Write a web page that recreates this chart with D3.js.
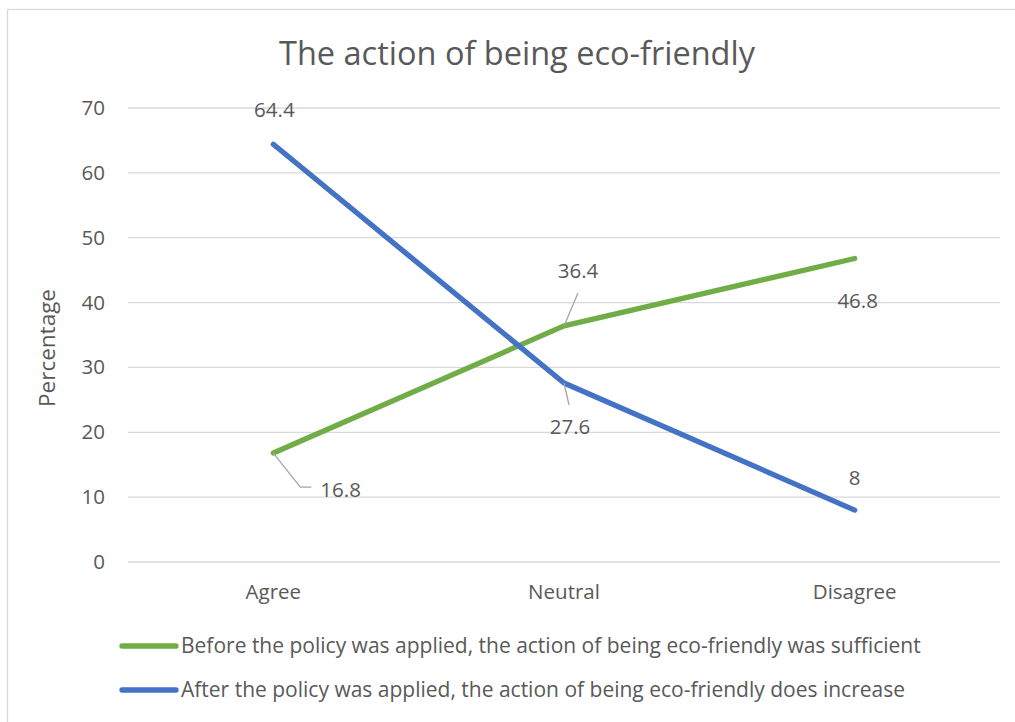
<!DOCTYPE html>
<html lang="en">
<head>
<meta charset="UTF-8">
<title>The action of being eco-friendly</title>
<script src="https://cdnjs.cloudflare.com/ajax/libs/d3/7.8.5/d3.min.js"></script>
<style>
  html, body { margin:0; padding:0; background:#fff; overflow:hidden; }
  svg text { font-family:"Open Sans", sans-serif; fill:#595959; }
</style>
</head>
<body>
<div id="chart"></div>
<script>
const categories=["Agree","Neutral","Disagree"];
const beforeValues=[16.8,36.4,46.8];
const afterValues=[64.4,27.6,8];
const seriesNames=[
  "Before the policy was applied, the action of being eco-friendly was sufficient",
  "After the policy was applied, the action of being eco-friendly does increase"
];
const yTicks=[0,10,20,30,40,50,60,70];

const width=1015,height=722;
const margin={top:108,right:15,bottom:160,left:128};
const svg=d3.select("#chart").append("svg").attr("width",width).attr("height",height);

// outer chart border (cut off on right/bottom like the source)
svg.append("rect").attr("x",7.5).attr("y",9.5).attr("width",1030).attr("height",740)
  .attr("fill","none").attr("stroke","#d9d9d9").attr("stroke-width",1.3);

const x=d3.scaleBand().domain(categories).range([margin.left,width-margin.right]);
const y=d3.scaleLinear().domain([0,70]).range([height-margin.bottom,margin.top]);

// gridlines
svg.append("g").selectAll("line").data(yTicks).join("line")
  .attr("x1",margin.left).attr("x2",width-margin.right)
  .attr("y1",d=>y(d)).attr("y2",d=>y(d))
  .attr("stroke","#d9d9d9").attr("stroke-width",1.3);

// y axis labels
const yAxis=svg.append("g").attr("transform","translate("+margin.left+",0)")
  .call(d3.axisLeft(y).tickValues(yTicks).tickSize(0).tickPadding(23));
yAxis.select(".domain").remove();
yAxis.selectAll("text").attr("font-size",20.5).attr("fill","#595959").attr("font-family","Open Sans");

// x axis labels
const xAxis=svg.append("g").attr("transform","translate(0,"+y(0)+")")
  .call(d3.axisBottom(x).tickSize(0).tickPadding(22));
xAxis.select(".domain").remove();
xAxis.selectAll("text").attr("font-size",20.5).attr("fill","#595959").attr("font-family","Open Sans");

// title
svg.append("text").attr("x",517).attr("y",65).attr("text-anchor","middle")
  .attr("font-size",32.5).text("The action of being eco-friendly");

// y axis title
svg.append("text").attr("transform","translate(55,348) rotate(-90)")
  .attr("text-anchor","middle").attr("font-size",22.5).text("Percentage");

const colors=["#70ad47","#4472c4"];
const series=[beforeValues,afterValues];
const line=d3.line().x((d,i)=>x(categories[i])+x.bandwidth()/2).y(d=>y(d));

series.forEach((vals,s)=>{
  svg.append("path").datum(vals).attr("d",line)
    .attr("fill","none").attr("stroke",colors[s]).attr("stroke-width",5.3)
    .attr("stroke-linecap","round").attr("stroke-linejoin","round");
});

// data labels: offsets relative to the point
const cx=i=>x(categories[i])+x.bandwidth()/2;
const labelOffsets=[
  [{dx:47,dy:37,anchor:"start",leader:[[27,34],[38,34]]},
   {dx:14,dy:-55,anchor:"middle",leader:[[14,-33]]},
   {dx:3,dy:42,anchor:"middle"}],
  [{dx:1,dy:-34,anchor:"middle"},
   {dx:6,dy:44,anchor:"middle",leader:[[5,22]]},
   {dx:0,dy:-32,anchor:"middle"}]
];
series.forEach((vals,s)=>{
  vals.forEach((v,i)=>{
    const o=labelOffsets[s][i];
    const px=cx(i),py=y(v);
    if(o.leader){
      const pts=[[px,py]].concat(o.leader.map(p=>[px+p[0],py+p[1]]));
      svg.append("path").attr("d",d3.line()(pts)).attr("fill","none")
        .attr("stroke","#a6a6a6").attr("stroke-width",1.3);
    }
    svg.append("text").attr("x",px+o.dx).attr("y",py+o.dy).attr("dy","0.35em")
      .attr("text-anchor",o.anchor).attr("font-size",20.5).text(v);
  });
});

// legend
const legend=svg.append("g");
seriesNames.forEach((name,s)=>{
  const ly=646+s*44;
  legend.append("line").attr("x1",122).attr("x2",176).attr("y1",ly).attr("y2",ly)
    .attr("stroke",colors[s]).attr("stroke-width",5.3).attr("stroke-linecap","round");
  legend.append("text").attr("x",181).attr("y",ly).attr("dy","0.35em")
    .attr("font-size",21).text(name);
});
</script>
</body>
</html>
